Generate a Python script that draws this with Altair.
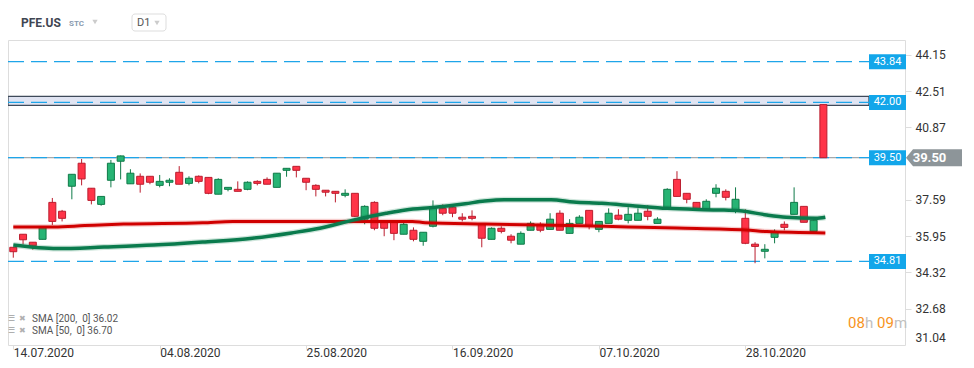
import altair as alt
import pandas as pd

# ---------------- data ----------------
tick_index = [0, 15, 30, 45, 60, 75]
tick_labels = ["14.07.2020", "04.08.2020", "25.08.2020", "16.09.2020", "07.10.2020", "28.10.2020"]

opens = [35.45, 36.04, 35.68, 35.81, 37.48, 37.08, 38.21, 39.25, 38.12, 37.39,
         38.48, 39.34, 38.32, 38.66, 38.66, 38.25, 38.39, 38.84, 38.34, 38.66,
         38.61, 37.85, 38.07, 38.07, 38.07, 38.43, 38.52, 38.16, 38.93, 39.11,
         38.57, 38.25, 38.03, 37.98, 37.80, 37.89, 36.72, 37.48, 36.58, 36.58,
         36.04, 36.22, 35.72, 36.40, 37.21, 37.26, 36.81, 36.85, 36.49, 35.81,
         36.31, 35.95, 35.59, 36.22, 36.49, 36.26, 36.99, 36.08, 36.53, 37.12,
         36.26, 36.53, 36.90, 36.67, 36.67, 37.08, 36.53, 37.21, 38.52, 37.89,
         37.48, 37.17, 37.89, 37.98, 37.12, 36.76, 35.59, 35.27, 35.90, 36.49,
         36.94, 37.30, 36.17, 41.90]
highs = [35.45, 36.04, 35.68, 36.34, 37.68, 37.14, 38.75, 39.44, 38.12, 37.75,
         39.40, 39.60, 38.98, 38.79, 38.66, 38.72, 38.57, 39.12, 38.66, 38.70,
         38.61, 38.57, 38.16, 38.43, 38.43, 38.48, 38.61, 38.80, 39.02, 39.11,
         38.57, 38.30, 38.03, 37.98, 38.07, 37.89, 37.35, 37.53, 36.67, 36.58,
         36.67, 36.35, 36.13, 37.57, 37.39, 37.26, 36.99, 37.12, 36.49, 36.35,
         36.40, 36.04, 36.17, 36.62, 36.58, 36.99, 37.12, 36.72, 36.90, 37.12,
         36.62, 37.21, 37.17, 37.26, 37.21, 37.35, 36.81, 38.12, 38.89, 37.89,
         37.48, 37.62, 38.30, 38.07, 38.16, 37.17, 35.68, 35.59, 36.26, 36.62,
         38.16, 37.30, 36.67, 41.90]
lows = [34.98, 35.58, 35.34, 35.81, 36.46, 36.62, 37.62, 38.25, 37.39, 37.33,
        38.16, 38.52, 38.32, 37.92, 38.30, 38.16, 38.21, 38.30, 38.25, 38.34,
        37.85, 37.85, 37.98, 37.98, 38.03, 38.25, 38.30, 38.16, 38.64, 38.61,
        38.03, 37.75, 37.75, 37.48, 37.71, 36.81, 36.49, 36.22, 35.95, 35.77,
        36.04, 35.72, 35.52, 36.35, 36.90, 36.81, 36.62, 36.67, 35.45, 35.81,
        36.08, 35.63, 35.59, 36.22, 36.13, 36.26, 36.22, 36.08, 36.53, 36.26,
        36.13, 36.53, 36.67, 36.53, 36.67, 36.67, 36.53, 37.21, 37.75, 37.44,
        37.21, 37.17, 37.71, 37.57, 36.99, 35.59, 34.73, 34.95, 35.63, 36.22,
        36.94, 36.58, 36.17, 39.50]
closes = [35.25, 35.79, 35.52, 36.34, 36.62, 36.76, 38.75, 38.54, 37.57, 37.75,
          39.25, 39.58, 38.80, 38.30, 38.39, 38.43, 38.48, 38.30, 38.57, 38.43,
          37.89, 38.52, 38.16, 37.98, 38.39, 38.34, 38.30, 38.80, 39.02, 38.93,
          38.39, 38.07, 37.94, 37.89, 37.89, 36.85, 37.30, 36.31, 36.31, 36.08,
          36.49, 35.81, 36.13, 37.21, 36.99, 36.99, 36.72, 36.76, 35.86, 36.31,
          36.17, 35.77, 36.08, 36.53, 36.22, 36.72, 36.22, 36.53, 36.81, 36.40,
          36.62, 36.99, 36.72, 36.94, 36.99, 36.85, 36.72, 38.07, 37.75, 37.62,
          37.21, 37.53, 38.12, 37.71, 37.62, 35.63, 35.49, 35.36, 36.13, 36.35,
          37.48, 36.58, 36.67, 39.50]

sma200_idx = [0, 4.2, 7.3, 11.3, 19.4, 22.5, 28.5, 40.9, 42.2, 48.3, 56.9, 63.0, 68.0, 75.1, 77.2, 83.2]
sma200_val = [36.37, 36.37, 36.43, 36.50, 36.56, 36.62, 36.62, 36.62, 36.56, 36.50, 36.44, 36.37, 36.32, 36.23, 36.16, 36.10]
sma50_idx = [0, 4.5, 9.3, 14.4, 19.4, 24.5, 28.5, 31.4, 34.8, 38.2, 40.2, 43.2, 46.3, 48.3, 50.3,
             55.1, 57.4, 60.3, 63.7, 67.0, 72.1, 74.4, 77.2, 79.2, 82.2, 83.2]
sma50_val = [35.55, 35.39, 35.46, 35.55, 35.69, 35.86, 36.10, 36.31, 36.68, 36.99, 37.14, 37.26, 37.42, 37.54, 37.60,
             37.60, 37.50, 37.44, 37.32, 37.21, 37.14, 37.10, 36.91, 36.81, 36.76, 36.81]
sma200_last = 36.02
sma50_last = 36.70

levels = [43.84, 42.00, 39.50, 34.81]
band = [41.87, 42.27]
y_ticks = [44.15, 42.51, 40.87, 37.59, 35.95, 34.32, 32.68, 31.04]

# ---------------- tables ----------------
df = pd.DataFrame({"i": list(range(len(opens))), "open": opens, "high": highs,
                   "low": lows, "close": closes})
df["dir"] = ["up" if c >= o else "down" for o, c in zip(opens, closes)]
sma200 = pd.DataFrame({"i": sma200_idx, "v": sma200_val})
sma50 = pd.DataFrame({"i": sma50_idx, "v": sma50_val})
lev = pd.DataFrame({"level": levels})
bandf = pd.DataFrame({"lo": [band[0]], "hi": [band[1]]})
last = pd.DataFrame({"p": [closes[-1]]})

FONT = "Roboto"
W, H = 897, 305
xscale = alt.Scale(domain=[-0.03, 90.85], nice=False, zero=False)
yscale = alt.Scale(domain=[31.033, 44.821], nice=False, zero=False)

label_expr = " : ".join(f"datum.value == {v} ? '{t}'" for v, t in zip(tick_index, tick_labels)) + " : ''"
xax = alt.Axis(values=tick_index, labelExpr=label_expr, title=None, grid=False, domain=False,
               tickSize=4, tickColor="#dddddd", labelAlign="left", labelPadding=-2,
               labelFontSize=12, labelColor="#333333", labelFont=FONT, labelFlush=False,
               labelOverlap=False)
yax = alt.Axis(orient="right", values=y_ticks, format=".2f", title=None, grid=False, domain=False,
               tickSize=6, tickColor="#dddddd", labelPadding=4, labelFontSize=12,
               labelColor="#333333", labelFont=FONT, labelFlush=False, labelOverlap=False,
               labelBaseline={"condition": {"test": "datum.value < 31.5", "value": "bottom"}, "value": "middle"},
               tickOpacity={"condition": {"test": "datum.value < 31.5", "value": 0}, "value": 1})

X = lambda f: alt.X(f, scale=xscale, axis=xax)
Y = lambda f: alt.Y(f, scale=yscale, axis=yax)

dir_dom = ["up", "down"]
fill_sc = alt.Scale(domain=dir_dom, range=["#27b474", "#ff3448"])
edge_sc = alt.Scale(domain=dir_dom, range=["#0f7a48", "#bb1d2e"])

LX0, LX1 = 0, 861

band_layer = alt.Chart(bandf).mark_rect(fill="#e0e4f2", stroke="#3e4a5a", strokeWidth=1.3).encode(
    y=Y("hi:Q"), y2="lo:Q", x=alt.value(LX0), x2=alt.value(LX1))

grey_line = alt.Chart(last).mark_rule(color="#8d9397", strokeWidth=1).encode(
    y=Y("p:Q"), x=alt.value(LX0), x2=alt.value(LX1))

dash_lines = alt.Chart(lev).mark_rule(color="#1ea5e9", strokeWidth=1.3, strokeDash=[16, 7]).encode(
    y=Y("level:Q"), x=alt.value(LX0), x2=alt.value(LX1))

wicks = alt.Chart(df).mark_rule(strokeWidth=1).encode(
    x=X("i:Q"), y=Y("low:Q"), y2="high:Q",
    color=alt.Color("dir:N", scale=edge_sc, legend=None))

bodies = alt.Chart(df).mark_bar(size=7, strokeWidth=1).encode(
    x=X("i:Q"), y=Y("open:Q"), y2="close:Q",
    fill=alt.Fill("dir:N", scale=fill_sc, legend=None),
    stroke=alt.Stroke("dir:N", scale=edge_sc, legend=None))

def sma_layers(d, color, w):
    halo = alt.Chart(d).mark_line(color=color, strokeWidth=w + 2.5, opacity=0.2,
                                  interpolate="monotone").encode(x=X("i:Q"), y=Y("v:Q"))
    core = alt.Chart(d).mark_line(color=color, strokeWidth=w,
                                  interpolate="monotone").encode(x=X("i:Q"), y=Y("v:Q"))
    return [halo, core]

box_path = "M -1 -0.405 L 1 -0.405 L 1 0.405 L -1 0.405 Z"
tag_path = "M -1 0 L -0.75 -0.304 L 1 -0.304 L 1 0.304 L -0.75 0.304 Z"

lvl_boxes = alt.Chart(lev).mark_point(shape=box_path, size=1369, filled=True, fill="#12a6ea",
                                      opacity=1, strokeWidth=0).encode(
    x=alt.value(879.5), y=Y("level:Q"))
lvl_text = alt.Chart(lev).mark_text(color="white", fontSize=11, font=FONT, align="center",
                                    baseline="middle").encode(
    x=alt.value(879.5), y=Y("level:Q"), text=alt.Text("level:Q", format=".2f"))

tag = alt.Chart(last).mark_point(shape=tag_path, size=3136, filled=True, fill="#8d9599",
                                 opacity=1, strokeWidth=0).encode(x=alt.value(926), y=Y("p:Q"))
tag_text = alt.Chart(last).mark_text(color="white", fontSize=13, fontWeight="bold", font=FONT,
                                     align="center", baseline="middle").encode(
    x=alt.value(921.5), y=Y("p:Q"), text=alt.Text("p:Q", format=".2f"))


def label(text, x, y, **kw):
    base = dict(font=FONT, align="left", baseline="middle")
    base.update(kw)
    return alt.Chart(pd.DataFrame({"t": [text]})).mark_text(**base).encode(
        x=alt.value(x), y=alt.value(y), text="t:N")

d1_box = alt.Chart(pd.DataFrame({"a": [0]})).mark_rect(fill="white", stroke="#dddddd",
                                                        strokeWidth=1, cornerRadius=3).encode(
    x=alt.value(124), x2=alt.value(158), y=alt.value(-26), y2=alt.value(-9))

def caret(x, y):
    return alt.Chart(pd.DataFrame({"a": [0]})).mark_point(shape="triangle-down", size=28, filled=True,
                                                           color="#cccccc", opacity=1).encode(
        x=alt.value(x), y=alt.value(y))

annot = [
    label("PFE.US", 13, -17, fontSize=12, fontWeight="bold", color="#3f4652"),
    label("STC", 61, -16, fontSize=8, fontWeight="bold", color="#8a9bb0"),
    caret(87, -18),
    d1_box,
    label("D1", 129, -17, fontSize=11, color="#555555"),
    caret(149, -17),
    label("\u2630", 0, 279, fontSize=8, color="#a0a0a0"),
    label("\u2716", 11, 279, fontSize=8, color="#b0b0b0"),
    label(f"SMA [200,\u00a0 0] {sma200_last:.2f}", 24, 279, fontSize=10, color="#555555"),
    label("\u2630", 0, 291, fontSize=8, color="#a0a0a0"),
    label("\u2716", 11, 291, fontSize=8, color="#b0b0b0"),
    label(f"SMA [50,\u00a0 0] {sma50_last:.2f}", 24, 291, fontSize=10, color="#555555"),
    label("08", 840, 283, fontSize=15, color="#f7941d"),
    label("h", 857, 283, fontSize=15, color="#c0c0c0"),
    label("09", 869, 283, fontSize=15, color="#f7941d"),
    label("m", 886, 283, fontSize=15, color="#c0c0c0"),
]

layers = [band_layer, grey_line, dash_lines, wicks, bodies]
layers += sma_layers(sma200, "#d00000", 3)
layers += sma_layers(sma50, "#0a7b4d", 3.5)
layers += [lvl_boxes, lvl_text, tag, tag_text] + annot

chart = alt.layer(*layers).properties(
    width=W, height=H,
    padding={"top": 32, "left": 0, "right": 61, "bottom": 15},
    autosize=alt.AutoSizeParams(type="none"),
    background="white",
).configure_view(stroke=None).configure(font=FONT)

chart.save("out.html", embed_options={"renderer": "svg", "actions": False})
